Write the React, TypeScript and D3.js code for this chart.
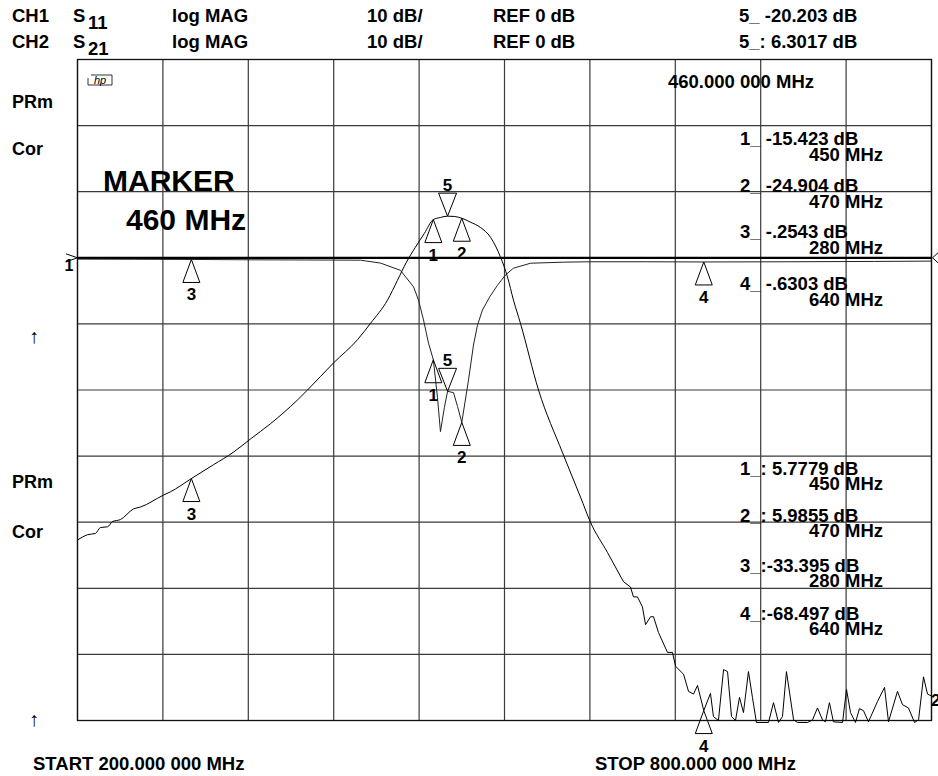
import React from "react";
import * as d3 from "d3";

// CH2 S21 trace (MHz, dB): smooth skirt part
const S21_FREQ = [200, 207, 212.6, 216.2, 221.1, 224.6, 230.2, 239.3, 244.3, 260.4, 265.3, 280, 295.6, 309.6, 321.6, 335.6, 354.6, 361.6, 379.9, 396.7, 405.9, 417.8, 424.8, 431.1, 437.4, 443.7, 450, 455, 460, 465, 470, 476, 483.1, 490.2, 497.2, 502.1, 506.3, 511.2, 523.9, 540.8, 553.4, 560.4, 572.4, 583.6];
const S21_DB = [-42.7, -41.9, -41.7, -40.8, -40.7, -39.9, -39.6, -38.0, -37.7, -35.9, -35.4, -33.4, -31.3, -29.4, -27.4, -25.1, -21.5, -20.0, -15.9, -12.4, -9.9, -6.4, -3.4, -0.66, 1.6, 3.7, 5.78, 6.1, 6.3, 6.25, 5.99, 5.4, 4.6, 3.1, 0.1, -2.9, -6.4, -9.9, -20.0, -29.5, -36.2, -40.0, -44.6, -49.0];
// CH2 S21 trace: stopband / noise floor
const S21_NOISE_FREQ = [583.6, 588.5, 590.6, 593.4, 596.9, 599.1, 602.6, 604.7, 608.2, 614.5, 618, 620.2, 625.8, 629.3, 632.8, 635.6, 640, 644.7, 646.8, 650.3, 653.9, 656.7, 659.5, 662.3, 665.1, 667.9, 671.4, 674.2, 677, 685.5, 689, 692.5, 695.3, 698.1, 703.1, 705.9, 712.9, 716.4, 719.9, 723.4, 725.5, 728.3, 731.1, 737.5, 740.3, 743.1, 746.6, 749.4, 752.2, 755.7, 762.1, 767, 769.8, 776.1, 779.6, 783.8, 788.1, 790.9, 794.4, 797.2, 800];
const S21_NOISE_DB = [-49.0, -49.8, -51.3, -51.3, -52.8, -55.5, -54.3, -54.3, -56.7, -59.7, -59.7, -61.8, -63.0, -65.6, -66.0, -64.7, -68.5, -65.9, -69.4, -70.0, -62.3, -62.6, -69.4, -70.0, -66.5, -68.8, -62.6, -66.5, -70.3, -70.3, -67.3, -70.3, -69.4, -62.6, -69.9, -70.3, -70.3, -69.9, -68.1, -69.9, -70.2, -67.3, -70.2, -70.3, -65.3, -68.8, -70.3, -68.2, -68.5, -70.2, -67.1, -65.0, -70.2, -65.6, -67.6, -68.1, -70.3, -69.9, -63.4, -66.0, -66.3];

// CH1 S11 trace (MHz, dB)
const S11_FREQ = [200, 240, 280, 320, 360, 398.8, 412.9, 426.9, 436.1, 439.6, 443.1, 446.6, 450, 452.9, 455, 457.8, 460, 464.2, 467, 470, 474.7, 478.2, 481, 484.5, 489.5, 495.1, 500.7, 506.3, 518.3, 541.4, 560, 600, 640, 700, 760, 800];
const S11_DB = [-0.2, -0.22, -0.25, -0.3, -0.33, -0.36, -0.8, -1.9, -4.4, -6.4, -9.4, -12.9, -15.42, -21.1, -26.3, -22.6, -20.2, -20.4, -22.5, -24.9, -18.5, -13.2, -10.2, -7.9, -5.95, -4.14, -2.6, -1.57, -0.82, -0.66, -0.6, -0.6, -0.63, -0.6, -0.55, -0.5];

// markers 1..5
const MARKER_NO = [1, 2, 3, 4, 5];
const MARKER_FREQ = [450, 470, 280, 640, 460];
const S11_MARK = [-15.423, -24.904, -0.2543, -0.6303, -20.203];
const S21_MARK = [5.7779, 5.9855, -33.395, -68.497, 6.3017];
const S11_READ = ["1_ -15.423 dB", "2_ -24.904 dB", "3_ -.2543  dB", "4_ -.6303  dB"];
const S21_READ = ["1_: 5.7779 dB", "2_: 5.9855 dB", "3_:-33.395 dB", "4_:-68.497 dB"];
const FREQ_READ = ["450 MHz", "470 MHz", "280 MHz", "640 MHz"];

const W = 938, H = 776;
const FONT = "'Liberation Sans', Arial, Helvetica, sans-serif";

export default function App() {
    const x = d3.scaleLinear().domain([200, 800]).range([77.5, 931.5]);
    const y = d3.scaleLinear().domain([-70, 30]).range([720.5, 59.5]);
    const smooth = d3.line<[number, number]>().x((d) => x(d[0])).y((d) => y(d[1])).curve(d3.curveMonotoneX);
    const line = d3.line<[number, number]>().x((d) => x(d[0])).y((d) => y(d[1]));

    const s21 = S21_FREQ.map((f, i) => [f, S21_DB[i]] as [number, number]);
    const s21n = S21_NOISE_FREQ.map((f, i) => [f, S21_NOISE_DB[i]] as [number, number]);
    const s11 = S11_FREQ.map((f, i) => [f, S11_DB[i]] as [number, number]);

    const vLines = d3.range(200, 801, 60);
    const hLines = d3.range(-70, 31, 10);

    const marker = (f: number, v: number, n: number, key: string) => {
        const ax = x(f), ay = y(v);
        if (n === 5) {
            return (
                <g key={key}>
                    <path d={`M${ax},${ay}L${ax - 9},${ay - 23}L${ax + 9},${ay - 23}Z`} fill="none" stroke="#000" strokeWidth={1} />
                    <text x={ax} y={ay - 25} textAnchor="middle" fontSize={17}>{n}</text>
                </g>
            );
        }
        return (
            <g key={key}>
                <path d={`M${ax},${ay}L${ax - 8.5},${ay + 23}L${ax + 8.5},${ay + 23}Z`} fill="none" stroke="#000" strokeWidth={1} />
                <text x={ax} y={ay + 41} textAnchor="middle" fontSize={17}>{n}</text>
            </g>
        );
    };

    const upperY = [145, 192, 238, 290];
    const lowerY = [475, 522, 572, 620];

    return (
        <svg width={W} height={H} style={{ position: "absolute", left: 0, top: 0, background: "#fff" }}
             fontFamily={FONT} fontWeight="bold" fill="#000">
            {/* graticule */}
            <g stroke="#3a3a3a" strokeWidth={1.2}>
                {vLines.map((f) => <line key={`v${f}`} x1={x(f)} x2={x(f)} y1={y(30)} y2={y(-70)} />)}
                {hLines.map((v) => <line key={`h${v}`} x1={x(200)} x2={x(800)} y1={y(v)} y2={y(v)} />)}
            </g>
            <rect x={x(200)} y={y(30)} width={x(800) - x(200)} height={y(-70) - y(30)} fill="none" stroke="#111" strokeWidth={1.3} />
            <line x1={x(200)} x2={x(800)} y1={y(0)} y2={y(0)} stroke="#000" strokeWidth={2.2} />

            {/* traces */}
            <path d={line(s11) ?? undefined} fill="none" stroke="#222" strokeWidth={1} />
            <path d={smooth(s21) ?? undefined} fill="none" stroke="#000" strokeWidth={1} />
            <path d={line(s21n) ?? undefined} fill="none" stroke="#000" strokeWidth={1} />

            {MARKER_NO.map((n, i) => marker(MARKER_FREQ[i], S11_MARK[i], n, `a${n}`))}
            {MARKER_NO.map((n, i) => marker(MARKER_FREQ[i], S21_MARK[i], n, `b${n}`))}

            {/* reference pointers */}
            <path d={`M66,${y(0) - 4}L${x(200)},${y(0)}L66,${y(0) + 4}`} fill="none" stroke="#000" strokeWidth={1} />
            <text x={69} y={271} textAnchor="middle" fontSize={16}>1</text>
            <path d={`M938,${y(0) - 5}L${x(800) + 1},${y(0)}L938,${y(0) + 5}`} fill="none" stroke="#000" strokeWidth={1} />
            <text x={931} y={706} fontSize={17}>2</text>

            {/* header */}
            <g fontSize={18.5}>
                <text x={12} y={22}>CH1</text>
                <text x={73} y={22}>S</text>
                <text x={88} y={29}>11</text>
                <text x={172} y={22}>log MAG</text>
                <text x={367} y={22}>10 dB/</text>
                <text x={493} y={22}>REF 0 dB</text>
                <text x={739} y={22}>5_ -20.203 dB</text>
                <text x={12} y={48}>CH2</text>
                <text x={73} y={48}>S</text>
                <text x={88} y={55}>21</text>
                <text x={172} y={48}>log MAG</text>
                <text x={367} y={48}>10 dB/</text>
                <text x={493} y={48}>REF 0 dB</text>
                <text x={739} y={48}>5_: 6.3017 dB</text>
                <text x={668} y={88}>460.000 000 MHz</text>
            </g>

            {/* hp logo */}
            <path d="M91,75H112V85H88V78" fill="none" stroke="#000" strokeWidth={0.8} />
            <text x={100} y={84} textAnchor="middle" fontSize={11} fontStyle="italic" fontWeight="normal">hp</text>

            {/* left annotations */}
            <g fontSize={18}>
                <text x={12} y={108}>PRm</text>
                <text x={12} y={155}>Cor</text>
                <text x={12} y={488}>PRm</text>
                <text x={12} y={538}>Cor</text>
            </g>
            <g fontSize={20} fontWeight="normal" textAnchor="middle">
                <text x={34} y={343}>↑</text>
                <text x={34} y={726}>↑</text>
            </g>

            <g fontSize={30}>
                <text x={103} y={191}>MARKER</text>
                <text x={126} y={230}>460 MHz</text>
            </g>

            {/* marker readouts */}
            <g fontSize={18.5} style={{ whiteSpace: "pre" }}>
                {FREQ_READ.map((fr, i) => (
                    <g key={`u${i}`}>
                        <text x={740} y={upperY[i]}>{S11_READ[i]}</text>
                        <text x={883} y={upperY[i] + 16} textAnchor="end">{fr}</text>
                    </g>
                ))}
                {FREQ_READ.map((fr, i) => (
                    <g key={`l${i}`}>
                        <text x={740} y={lowerY[i]}>{S21_READ[i]}</text>
                        <text x={883} y={lowerY[i] + 15} textAnchor="end">{fr}</text>
                    </g>
                ))}
            </g>

            {/* footer */}
            <g fontSize={18.5} style={{ whiteSpace: "pre" }}>
                <text x={33} y={770}>{"START  200.000 000 MHz"}</text>
                <text x={595} y={770}>{"STOP  800.000 000 MHz"}</text>
            </g>
        </svg>
    );
}
